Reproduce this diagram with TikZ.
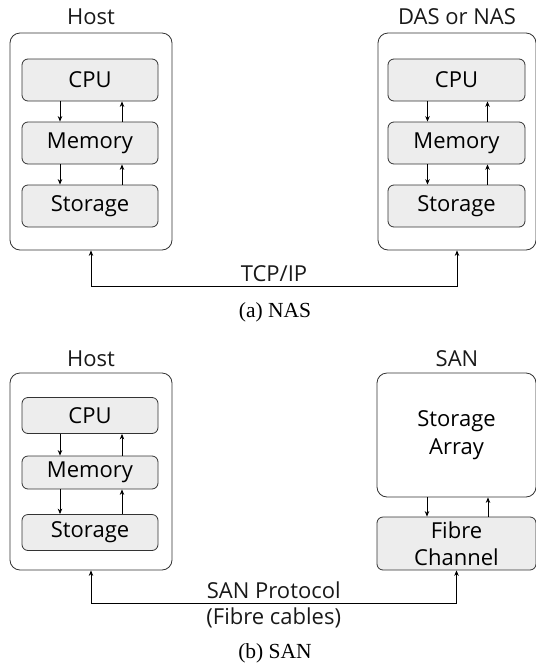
\documentclass[tikz,border=0pt]{standalone}
\usepackage{fontspec}
\setmainfont{Liberation Serif}
\newfontfamily\diagfont{Open Sans}
\usepackage{tikz}
\usetikzlibrary{shapes.geometric, arrows, arrows.meta, positioning}
\tikzstyle{outer} = [font=\diagfont\fontsize{22}{28}\selectfont, rectangle, rounded corners=10pt, minimum width=162pt, minimum height=217pt, align=center, draw=black!80, line width=0.8pt, fill=white]
\tikzstyle{unit} = [font=\diagfont\fontsize{22}{27}\selectfont, rectangle, rounded corners=6pt, minimum width=136pt, minimum height=42pt, inner sep=1pt, align=center, draw=black!80, line width=0.8pt, fill=black!7]
\tikzstyle{tag} = [font=\diagfont\fontsize{22}{27}\selectfont, text=black!90, align=center, inner sep=1pt]
\tikzstyle{caption} = [font=\fontsize{21.5}{25}\selectfont, inner sep=1pt]
\tikzstyle{arrow} = [line width=0.8pt,->,>={Stealth[length=5.5pt,width=4.5pt]}]
\tikzstyle{link} = [line width=0.8pt,<->,>={Stealth[length=5.5pt,width=4.5pt]}]

\begin{document}
\begin{tikzpicture}[x=1pt, y=-1pt, node distance=63pt]
  \useasboundingbox (0,0) rectangle (536,670);
  % (a) NAS
  \node (host1) [outer] at (91,141.5) {};
  \node (host1 tag) [tag] at (91,17) {Host};
  \node (cpu1) [unit] at (90,80) {CPU};
  \node (mem1) [unit, below of=cpu1] {Memory};
  \node (sto1) [unit, below of=mem1] {Storage};
  \node (nas) [outer, minimum width=158pt] at (457,141.5) {};
  \node (nas tag) [tag] at (457,17) {DAS or NAS};
  \node (cpu2) [unit, minimum width=137pt] at (456.5,80) {CPU};
  \node (mem2) [unit, minimum width=137pt, below of=cpu2] {Memory};
  \node (sto2) [unit, minimum width=137pt, below of=mem2] {Storage};
  \draw[arrow] ([xshift=-30pt]cpu1.south) -- ([xshift=-30pt]mem1.north);
  \draw[arrow] ([xshift=32pt]mem1.north) -- ([xshift=32pt]cpu1.south);
  \draw[arrow] ([xshift=-30pt]mem1.south) -- ([xshift=-30pt]sto1.north);
  \draw[arrow] ([xshift=32pt]sto1.north) -- ([xshift=32pt]mem1.south);
  \draw[arrow] ([xshift=-29pt]cpu2.south) -- ([xshift=-29pt]mem2.north);
  \draw[arrow] ([xshift=31pt]mem2.north) -- ([xshift=31pt]cpu2.south);
  \draw[arrow] ([xshift=-29pt]mem2.south) -- ([xshift=-29pt]sto2.north);
  \draw[arrow] ([xshift=31pt]sto2.north) -- ([xshift=31pt]mem2.south);
  \draw[link] (host1.south) -- ++(0,36) -| node[tag, pos=0.25, above=3pt]{TCP/IP} (nas.south);
  \node (cap a) [caption] at (275,312) {(a) NAS};
  % (b) SAN
  \node (host2) [outer, minimum height=197pt] at (91,471.5) {};
  \node (host2 tag) [tag] at (91,359) {Host};
  \node (cpu3) [unit, minimum height=36pt] at (90,415.5) {CPU};
  \node (mem3) [unit, minimum height=33pt, below of=cpu3, yshift=6pt] {Memory};
  \node (sto3) [unit, minimum height=36pt, below of=mem3, yshift=3pt] {Storage};
  \node (san) [outer, minimum width=159pt, minimum height=124pt] at (456.5,435) {Storage\\Array};
  \node (san tag) [tag] at (457,359) {SAN};
  \node (fc) [unit, minimum width=159pt, minimum height=53pt] at (456.5,543.5) {Fibre\\Channel};
  \draw[arrow] ([xshift=-30pt]cpu3.south) -- ([xshift=-30pt]mem3.north);
  \draw[arrow] ([xshift=32pt]mem3.north) -- ([xshift=32pt]cpu3.south);
  \draw[arrow] ([xshift=-30pt]mem3.south) -- ([xshift=-30pt]sto3.north);
  \draw[arrow] ([xshift=32pt]sto3.north) -- ([xshift=32pt]mem3.south);
  \draw[arrow] ([xshift=-29.5pt]san.south) -- ([xshift=-29.5pt]fc.north);
  \draw[arrow] ([xshift=31.5pt]fc.north) -- ([xshift=31.5pt]san.south);
  \draw[link] (host2.south) -- ++(0,33) -| node[tag, pos=0.25, above=3pt]{SAN Protocol}
    node[tag, pos=0.25, below=3pt]{(Fibre cables)} (fc.south);
  \node (cap b) [caption] at (275,653) {(b) SAN};
\end{tikzpicture}
\end{document}
